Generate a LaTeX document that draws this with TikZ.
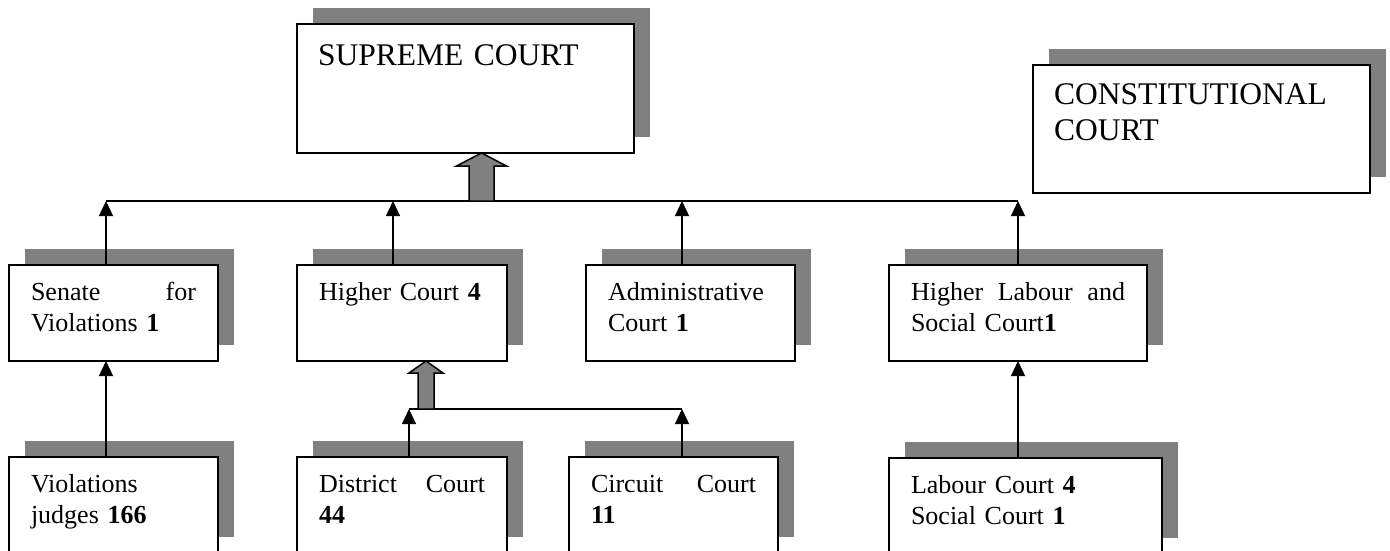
\documentclass[tikz,border=0pt]{standalone}
\usepackage{fontspec}
\setmainfont{Liberation Serif}
\usetikzlibrary{arrows.meta,shadows}

\begin{document}
\begin{tikzpicture}[x=1pt,y=-1pt,
  court/.style={draw,line width=2pt,fill=white,anchor=north west,outer sep=0pt,
    inner xsep=22pt,inner ysep=0pt,align=left,text height=35pt,text depth=61pt,
    font=\fontsize{26}{31}\selectfont,
    drop shadow={shadow xshift=16pt,shadow yshift=16pt,fill=gray,opacity=1}},
  bigcourt/.style={court,inner xsep=21pt,text width=295pt,
    font=\fontsize{31.5}{36}\selectfont},
  conn/.style={line width=1.3pt},
  arr/.style={conn,-{Triangle[width=14pt,length=15pt]}},
  fatarrow/.style={draw,line width=1.5pt,fill=gray,line join=miter}]
  \useasboundingbox (0,0) rectangle (1390,551);

  % top level
  \node[bigcourt,text height=42pt,text depth=87pt] (supreme) at (297,24) {SUPREME COURT};
  \node[bigcourt,text height=39pt,text depth=89pt] (constit) at (1033,65) {CONSTITUTIONAL\\COURT};

  % second level
  \node[court,text width=165pt] (senate) at (9,265) {Senate\hfill for\\Violations \textbf{1}};
  \node[court,text width=166pt] (higher) at (297,265) {Higher Court \textbf{4}};
  \node[court,text width=165pt] (admin) at (586,265) {Administrative\\Court \textbf{1}};
  \node[court,text width=214pt] (hlabour) at (889,265) {Higher\hfill Labour\hfill and\\Social Court\textbf{1}};

  % first instance
  \node[court,text width=165pt] (viol) at (9,457) {Violations\\judges \textbf{166}};
  \node[court,text width=166pt] (district) at (297,457) {District\hfill Court\\\textbf{44}};
  \node[court,text width=165pt] (circuit) at (569,457) {Circuit\hfill Court\\\textbf{11}};
  \node[court,text width=229pt] (labour) at (889,458) {Labour Court \textbf{4}\\Social Court \textbf{1}};

  % upper bus
  \coordinate (t1) at (106,201);
  \coordinate (t2) at (393,201);
  \coordinate (t3) at (682,201);
  \coordinate (t4) at (1018,201);
  \draw[conn] (t1) -- (t4);
  \draw[arr] (senate.north -| t1) -- (t1);
  \draw[arr] (higher.north -| t2) -- (t2);
  \draw[arr] (admin.north -| t3) -- (t3);
  \draw[arr] (hlabour.north -| t4) -- (t4);
  \coordinate (bigtip) at (481.5,153);
  \draw[fatarrow] (bigtip) -- ++(25,13) -- ++(-12.5,0) -- ++(0,35) -- ++(-25,0)
    -- ++(0,-35) -- ++(-12.5,0) -- cycle;

  % lower bus
  \coordinate (m1) at (409,409);
  \coordinate (m2) at (682,409);
  \draw[conn] (m1) -- (m2);
  \draw[arr] (district.north -| m1) -- (m1);
  \draw[arr] (circuit.north -| m2) -- (m2);
  \coordinate (smalltip) at (426,361);
  \draw[fatarrow] (smalltip) -- ++(17,12) -- ++(-9,0) -- ++(0,36) -- ++(-16,0)
    -- ++(0,-36) -- ++(-9,0) -- cycle;

  \draw[arr] (viol.north -| t1) -- (senate.south -| t1);
  \draw[arr] (labour.north -| t4) -- (hlabour.south -| t4);
\end{tikzpicture}
\end{document}
